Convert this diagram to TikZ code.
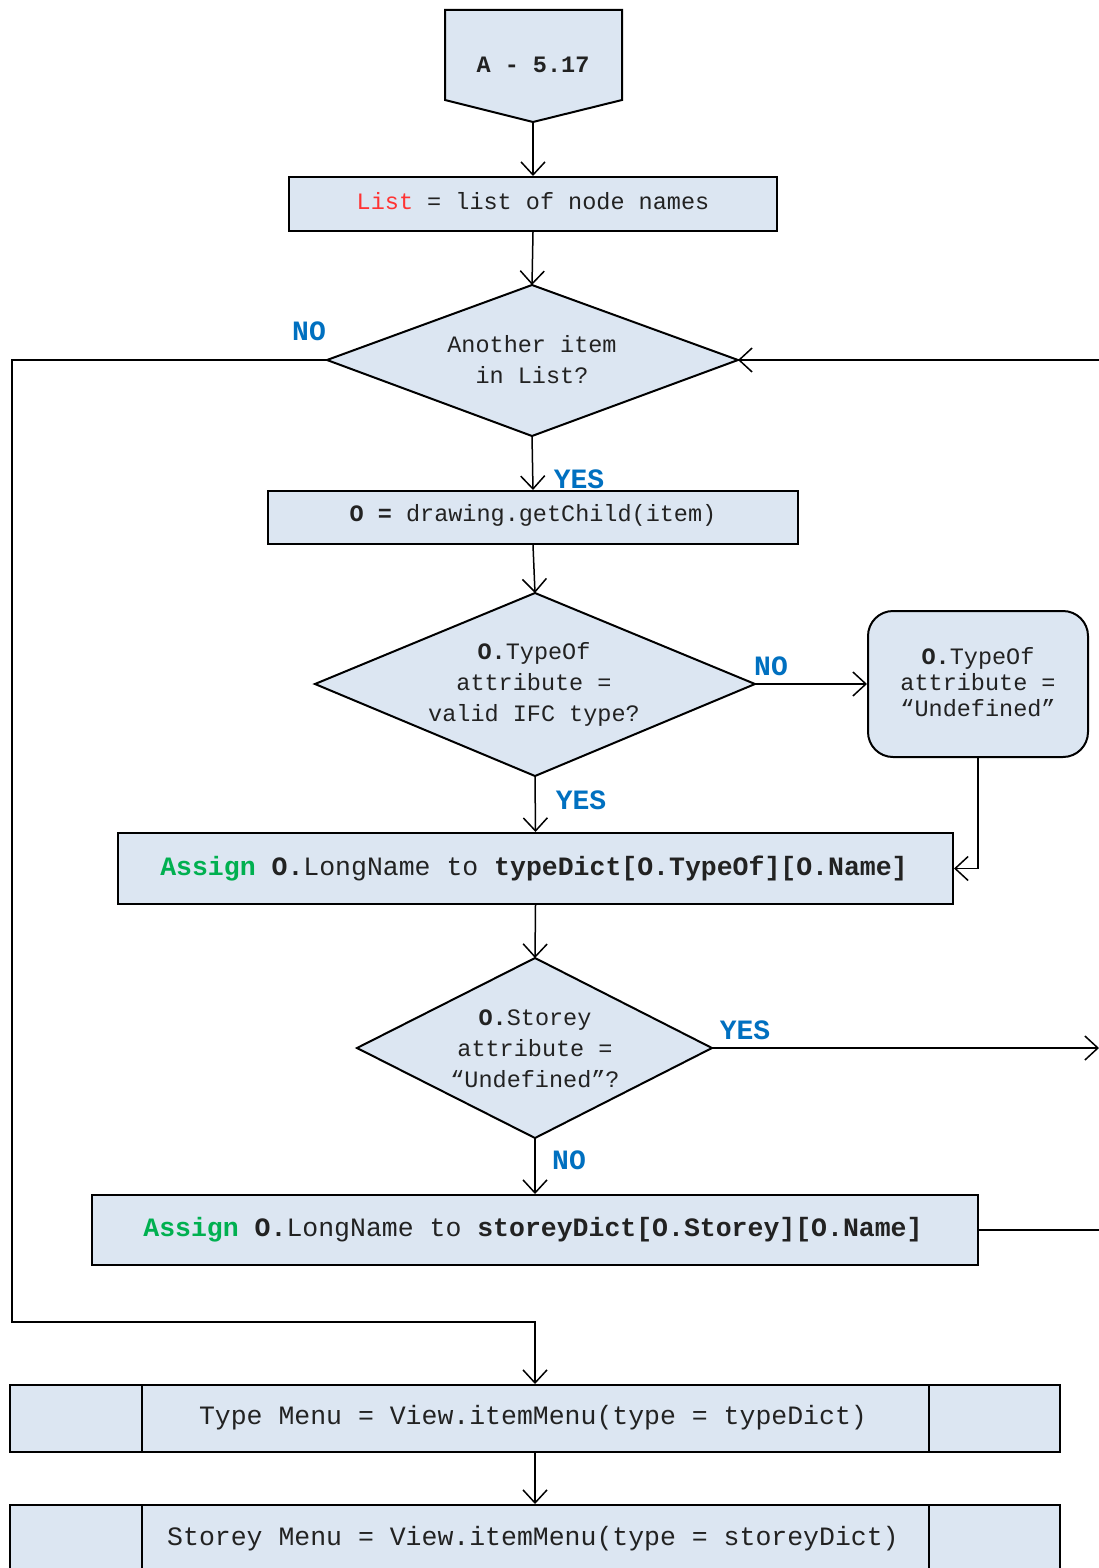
\documentclass[tikz,border=0pt]{standalone}
\usepackage{fontspec}
\setmonofont{Liberation Mono}
\usetikzlibrary{arrows.meta}
\definecolor{boxfill}{HTML}{DCE6F2}
\definecolor{lblblue}{HTML}{0070C0}
\definecolor{asgreen}{HTML}{00B050}
\definecolor{listred}{HTML}{FF3333}
\definecolor{inkgray}{HTML}{222222}

\tikzset{
  shapebox/.style={draw=black, fill=boxfill, line width=2pt},
  procbox/.style={shapebox, rectangle, inner sep=0pt},
  flow/.style={line width=1.5pt, -{Straight Barb[length=13pt,width=24pt,line width=1.5pt]}},
  plain/.style={line width=1.5pt},
  txt/.style={font=\fontsize{23.5}{31}\selectfont\ttfamily, align=center, inner sep=0pt, text=inkgray},
  bigtxt/.style={font=\fontsize{26.5}{34}\selectfont\ttfamily, inner sep=0pt, text=inkgray},
  lbl/.style={font=\fontsize{28}{30}\selectfont\ttfamily\bfseries, text=lblblue, inner sep=0pt},
}

\begin{document}
\begin{tikzpicture}[x=1pt, y=-1pt]
\clip (0,0) rectangle (1099,1568);
\fill[white] (0,0) rectangle (1099,1568);

% off-page start connector
\draw[shapebox] (445,10) -- (622,10) -- (622,100) -- (533,122) -- (445,100) -- cycle;
\node[txt, font=\fontsize{23.5}{31}\selectfont\ttfamily\bfseries] (start) at (533,65) {A - 5.17};
\coordinate (starttip) at (533,122);

% list of names
\node[procbox, minimum width=488pt, minimum height=54pt] (b1) at (533,204) {};
\node[txt] (b1t) at (533,201) {\textcolor{listred}{List} = list of node names};

% decision: another item
\coordinate (d1t) at (532,285);
\coordinate (d1r) at (738,360);
\coordinate (d1b) at (532,436);
\coordinate (d1l) at (327,360);
\draw[shapebox] (d1t) -- (d1r) -- (d1b) -- (d1l) -- cycle;
\node[txt] (d1) at (532,360) {Another item\\in List?};

% get child
\node[procbox, minimum width=530pt, minimum height=53pt] (b2) at (533,517.5) {};
\node[txt] (b2t) at (533,515) {\textbf{O =} drawing.getChild(item)};

% decision: valid IFC type
\coordinate (d2t) at (535,593);
\coordinate (d2r) at (755,684);
\coordinate (d2b) at (535,776);
\coordinate (d2l) at (315,684);
\draw[shapebox] (d2t) -- (d2r) -- (d2b) -- (d2l) -- cycle;
\node[txt] (d2) at (534,684) {\textbf{O.}TypeOf\\attribute =\\valid IFC type?};

% undefined type
\node[shapebox, rounded corners=25pt, minimum width=220pt, minimum height=146pt, inner sep=0pt] (undef) at (978,684) {};
\node[txt, font=\fontsize{23.5}{26}\selectfont\ttfamily] (undeft) at (978,682) {\textbf{O.}TypeOf\\attribute =\\“Undefined”};

% assign to type dictionary
\node[procbox, minimum width=835pt, minimum height=71pt] (b3) at (535.5,868.5) {};
\node[bigtxt] (b3t) at (534,869) {\textbf{\textcolor{asgreen}{Assign}} \textbf{O.}LongName to \textbf{typeDict[O.TypeOf][O.Name]}};

% decision: storey undefined
\coordinate (d3t) at (535,958);
\coordinate (d3r) at (712,1048);
\coordinate (d3b) at (535,1138);
\coordinate (d3l) at (357,1048);
\draw[shapebox] (d3t) -- (d3r) -- (d3b) -- (d3l) -- cycle;
\node[txt] (d3) at (535,1049) {\textbf{O.}Storey\\attribute =\\“Undefined”?};

% assign to storey dictionary
\node[procbox, minimum width=886pt, minimum height=70pt] (b4) at (535,1230) {};
\node[bigtxt] (b4t) at (533,1230) {\textbf{\textcolor{asgreen}{Assign}} \textbf{O.}LongName to \textbf{storeyDict[O.Storey][O.Name]}};

% predefined processes
\node[procbox, minimum width=1050pt, minimum height=67pt] (b5) at (535,1418.5) {};
\draw[line width=2pt] (142,1385) -- (142,1452) (929,1385) -- (929,1452);
\node[bigtxt] (b5t) at (533,1418) {Type Menu = View.itemMenu(type = typeDict)};

\node[procbox, minimum width=1050pt, minimum height=67pt] (b6) at (535,1538.5) {};
\draw[line width=2pt] (142,1505) -- (142,1572) (929,1505) -- (929,1572);
\node[bigtxt] (b6t) at (533,1539) {Storey Menu = View.itemMenu(type = storeyDict)};

% free ends at the right margin
\coordinate (loopin) at (1099,360);
\coordinate (yesout) at (1099,1048);
\coordinate (b4out) at (1099,1230);
\coordinate (loopL) at (12,1322);

% connectors
\draw[flow] (starttip) -- (b1.north);
\draw[flow] (b1.south) -- (d1t);
\draw[flow] (d1b) -- (b2.north);
\draw[flow] (b2.south) -- (d2t);
\draw[flow] (d2r) -- (undef.west);
\draw[flow] (undef.south) |- (b3.east);
\draw[flow] (d2b) -- (b3.north);
\draw[flow] (b3.south) -- (d3t);
\draw[flow] (d3r) -- (yesout);
\draw[flow] (d3b) -- (b4.north);
\draw[plain] (b4.east) -- (b4out);
\draw[flow] (loopin) -- (d1r);
\draw[flow] (d1l) -| (loopL) -| (b5.north);
\draw[flow] (b5.south) -- (b6.north);

% branch labels
\node[lbl] (no1) at (309,331) {NO};
\node[lbl] (yes1) at (579,479) {YES};
\node[lbl] (no2) at (771,666) {NO};
\node[lbl] (yes2) at (581,800) {YES};
\node[lbl] (yes3) at (745,1030) {YES};
\node[lbl] (no3) at (569,1160) {NO};
\end{tikzpicture}
\end{document}
